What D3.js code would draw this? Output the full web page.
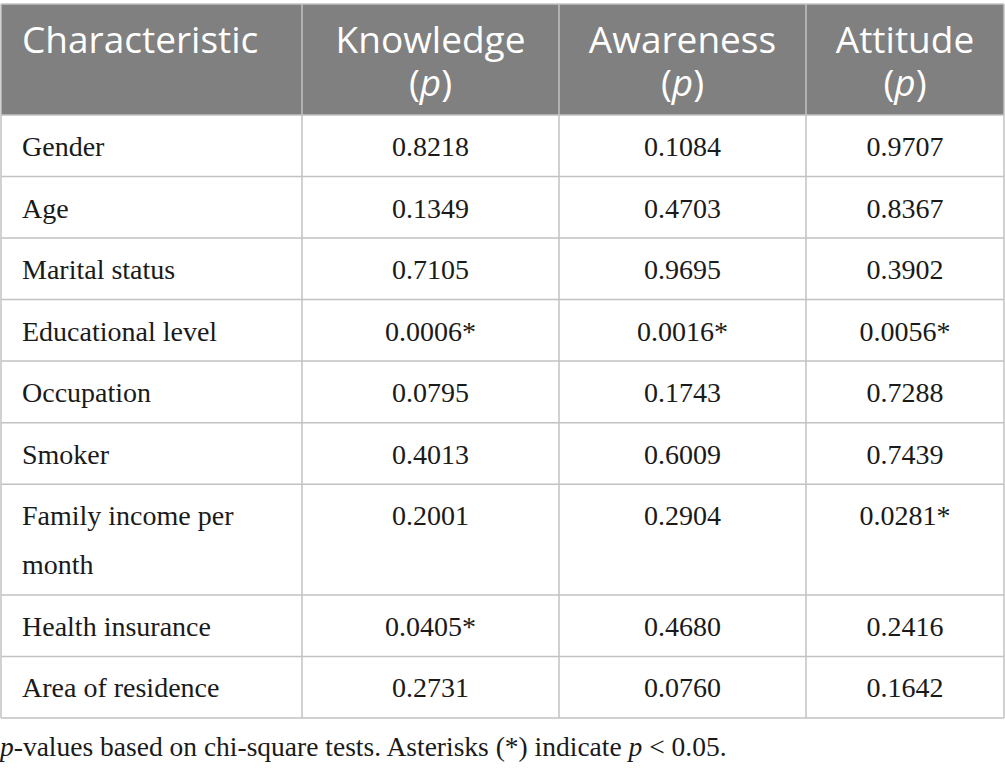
<!DOCTYPE html>
<html lang="en">
<head>
    <meta charset="UTF-8">
    <script src="https://d3js.org/d3.v7.min.js"></script>
    <title>p-values table</title>
    <style>
        body { margin: 0; background: white; }
        .head { font-family: "Open Sans", sans-serif; fill: white; }
        .cell { font-family: "Liberation Serif", serif; fill: #1a1a1a; }
    </style>
</head>
<body>
    <div id="chart"></div>
    <script>
        // ---- data ----
        const characteristics = ["Gender", "Age", "Marital status", "Educational level", "Occupation",
            "Smoker", "Family income per month", "Health insurance", "Area of residence"];
        const knowledge = [0.8218, 0.1349, 0.7105, 0.0006, 0.0795, 0.4013, 0.2001, 0.0405, 0.2731];
        const awareness = [0.1084, 0.4703, 0.9695, 0.0016, 0.1743, 0.6009, 0.2904, 0.4680, 0.0760];
        const attitude = [0.9707, 0.8367, 0.3902, 0.0056, 0.7288, 0.7439, 0.0281, 0.2416, 0.1642];
        const columns = ["Characteristic", "Knowledge", "Awareness", "Attitude"];
        const footnote = "-values based on chi-square tests. Asterisks (*) indicate ";

        // ---- layout ----
        const width = 1005, height = 773;
        const colEdges = [1, 302, 559, 806, 1004];
        const headTop = 4, headBottom = 115, bodyBottom = 718;
        const padX = 21;
        const bodySize = 28, headSize = 37, noteSize = 27.5;
        const borderColor = "#c2c2c2";

        const svg = d3.select("#chart").append("svg")
            .attr("width", width)
            .attr("height", height);

        const fmt = d3.format(".4f");
        const cellText = v => fmt(v) + (v < 0.05 ? "*" : "");

        // header background
        svg.append("rect")
            .attr("x", colEdges[0]).attr("y", headTop)
            .attr("width", colEdges[4] - colEdges[0]).attr("height", headBottom - headTop)
            .attr("fill", "#808080");

        // header text (two lines kept in one text element)
        columns.forEach((c, i) => {
            const x0 = colEdges[i], x1 = colEdges[i + 1];
            if (i === 0) {
                svg.append("text").attr("class", "head")
                    .attr("x", x0 + padX).attr("y", 53)
                    .attr("font-size", headSize).text(c);
            } else {
                const cx = (x0 + x1) / 2;
                const t = svg.append("text").attr("class", "head")
                    .attr("y", 53).attr("text-anchor", "middle")
                    .attr("font-size", headSize);
                t.append("tspan").attr("x", cx).text(c);
                t.append("tspan").attr("x", cx).attr("dy", 43).text("(");
                t.append("tspan").attr("font-style", "italic").text("p");
                t.append("tspan").text(")");
            }
        });

        // wrap characteristic labels into lines by measured width
        const measure = svg.append("text").attr("class", "cell").attr("font-size", bodySize);
        const labelLines = characteristics.map(label => {
            const words = label.split(" ");
            const lines = [];
            let cur = "";
            words.forEach(w => {
                const test = cur ? cur + " " + w : w;
                measure.text(test);
                if (measure.node().getComputedTextLength() > colEdges[1] - colEdges[0] - 2 * padX && cur) {
                    lines.push(cur);
                    cur = w;
                } else {
                    cur = test;
                }
            });
            lines.push(cur);
            return lines;
        });
        measure.remove();

        // row heights in units: one line = 1, each extra line adds 0.8
        const extra = 0.8;
        const units = labelLines.map(l => 1 + (l.length - 1) * extra);
        const cum = [0];
        units.forEach(u => cum.push(cum[cum.length - 1] + u));
        const y = d3.scaleLinear().domain([0, cum[cum.length - 1]]).range([headBottom, bodyBottom]);
        const lineStep = y(extra) - y(0);

        const rows = svg.selectAll("g.row")
            .data(characteristics.map((c, i) => ({
                lines: labelLines[i],
                vals: [knowledge[i], awareness[i], attitude[i]],
                top: y(cum[i]),
                bottom: y(cum[i + 1])
            })))
            .join("g").attr("class", "row");

        rows.each(function (d) {
            const g = d3.select(this);
            const base = d.top + 41;
            const lbl = g.append("text").attr("class", "cell")
                .attr("y", base).attr("font-size", bodySize);
            d.lines.forEach((ln, k) => {
                lbl.append("tspan").attr("x", colEdges[0] + padX)
                    .attr("dy", k === 0 ? 0 : lineStep).text(ln);
            });
            d.vals.forEach((v, j) => {
                g.append("text").attr("class", "cell")
                    .attr("x", (colEdges[j + 1] + colEdges[j + 2]) / 2).attr("y", base)
                    .attr("text-anchor", "middle")
                    .attr("font-size", bodySize).text(cellText(v));
            });
        });

        // grid lines
        const hLines = [headTop, headBottom].concat(cum.slice(1).map(c => y(c)));
        svg.selectAll("line.h").data(hLines).join("line")
            .attr("x1", colEdges[0]).attr("x2", colEdges[4])
            .attr("y1", d => d).attr("y2", d => d)
            .attr("stroke", borderColor).attr("stroke-width", 1.5);
        svg.selectAll("line.v").data(colEdges).join("line")
            .attr("x1", d => d).attr("x2", d => d)
            .attr("y1", headTop).attr("y2", bodyBottom)
            .attr("stroke", borderColor).attr("stroke-width", 1.5);

        // footnote
        const fn = svg.append("text").attr("class", "cell")
            .attr("x", 0).attr("y", 756).attr("font-size", noteSize);
        fn.append("tspan").attr("font-style", "italic").text("p");
        fn.append("tspan").text(footnote);
        fn.append("tspan").attr("font-style", "italic").text("p");
        fn.append("tspan").text(" < 0.05.");
    </script>
</body>
</html>
